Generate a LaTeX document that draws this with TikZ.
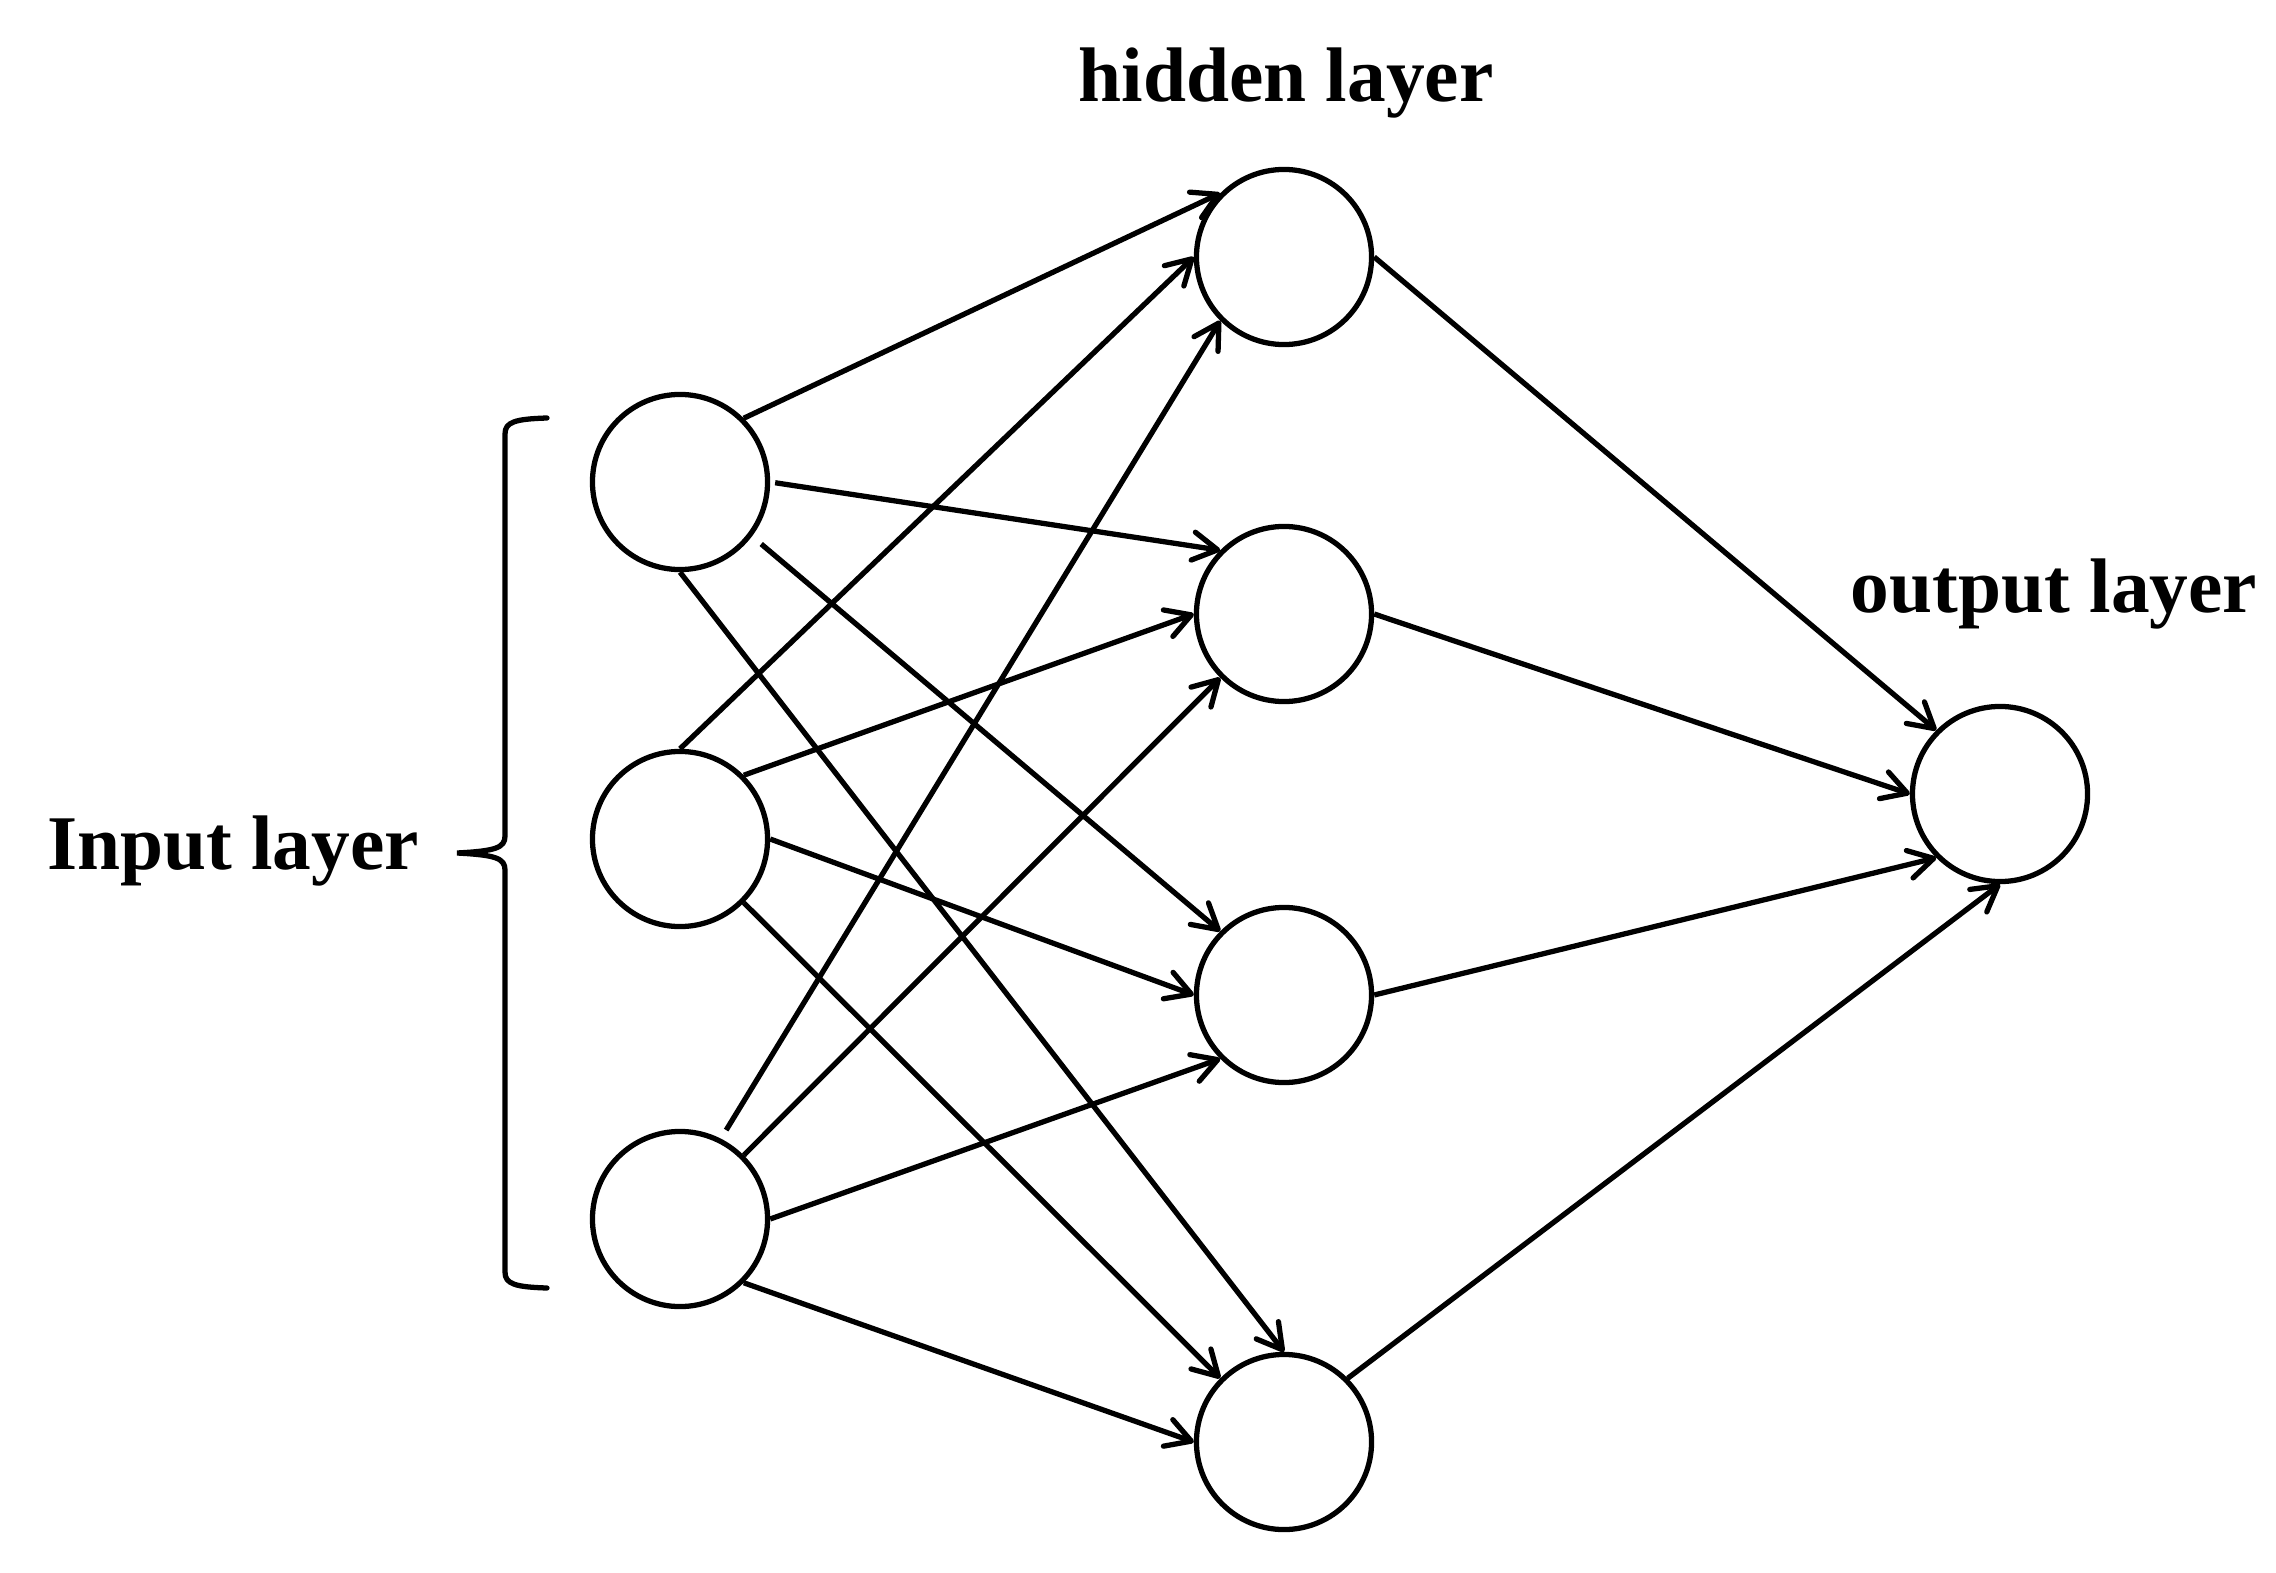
\documentclass[tikz,border=0pt]{standalone}
\usepackage{fontspec}
\setmainfont{Liberation Serif}
\usetikzlibrary{arrows.meta}
\begin{document}
\begin{tikzpicture}[x=0.01cm,y=-0.01cm,
  neuron/.style={circle,draw,line width=1.5pt,minimum size=1.75cm,inner sep=0pt},
  conn/.style={line width=1.5pt,-{Straight Barb[length=7pt,width=8pt,round]}},
  bracepath/.style={line width=1.5pt,line cap=round},
  lbl/.style={font=\fontsize{22}{26}\selectfont\bfseries,anchor=base,inner sep=0pt}]
\useasboundingbox (0,0) rectangle (2276,1573);
% nodes
\node[neuron] (in1) at (680,482) {};
\node[neuron] (in2) at (680,839) {};
\node[neuron] (in3) at (680,1219) {};
\node[neuron] (h1) at (1284,257) {};
\node[neuron] (h2) at (1284,614) {};
\node[neuron] (h3) at (1284,995) {};
\node[neuron] (h4) at (1284,1442) {};
\node[neuron] (out) at (2000,794) {};
% labels
\node[lbl] (lh) at (1286,102) {hidden layer};
\node[lbl] (lo) at (2054,612) {output layer};
\node[lbl] (li) at (233,869) {Input layer};
% brace
\draw[bracepath] (547,418) .. controls (515,419) and (505,422) .. (505,434)
  -- (505,836) .. controls (505,848) and (495,851) .. (457,853)
  .. controls (495,855) and (505,858) .. (505,870)
  -- (505,1272) .. controls (505,1284) and (515,1287) .. (547,1288);
% input -> hidden
\draw[conn] (in1.45) -- (h1.135);
\draw[conn,shorten <=0.05cm] (in1.0) -- (h2.135);
\draw[conn,shorten <=0.12cm] (in1.-37) -- (h3.135);
\draw[conn] (in1.-90) -- (h4.90);
\draw[conn] (in2.90) -- (h1.180);
\draw[conn] (in2.45) -- (h2.180);
\draw[conn] (in2.0) -- (h3.180);
\draw[conn] (in2.-45) -- (h4.135);
\draw[conn,shorten <=0.10cm] (in3.63) -- (h1.225);
\draw[conn] (in3.45) -- (h2.225);
\draw[conn] (in3.0) -- (h3.225);
\draw[conn] (in3.-45) -- (h4.180);
% hidden -> output
\draw[conn] (h1.0) -- (out.135);
\draw[conn] (h2.0) -- (out.180);
\draw[conn] (h3.0) -- (out.225);
\draw[conn] (h4.45) -- (out.-90);
\end{tikzpicture}
\end{document}
